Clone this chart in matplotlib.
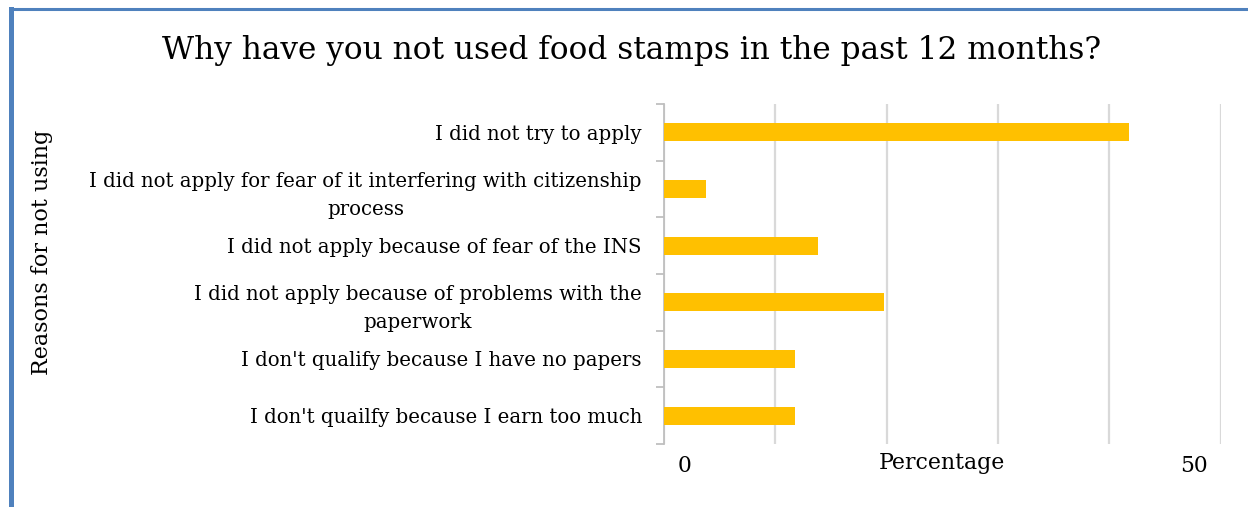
import matplotlib
matplotlib.use("Agg")
import matplotlib.pyplot as plt
from matplotlib.lines import Line2D
from matplotlib.transforms import ScaledTranslation

# survey answers, top to bottom
reasons = [
    "I did not try to apply",
    "I did not apply for fear of it interfering with citizenship\nprocess",
    "I did not apply because of fear of the INS",
    "I did not apply because of problems with the\npaperwork",
    "I don't qualify because I have no papers",
    "I don't quailfy because I earn too much",
]
percent = [41.8, 3.8, 13.8, 19.8, 11.8, 11.8]

x_ticks = [0, 10, 20, 30, 40, 50]
x_tick_labels = ["0", "", "", "", "", "50"]

title = "Why have you not used food stamps in the past 12 months?"
x_title = "Percentage"
y_title = "Reasons for not using"

BAR = "#FFC000"
GRID = "#D9D9D9"
FRAME = "#4F81BD"

plt.rcParams["font.family"] = ["DejaVu Serif"]

fig = plt.figure(figsize=(12.48, 5.07), dpi=100)
ax = fig.add_axes([0.532, 0.1243, 0.446, 0.6706])

pos = list(range(len(reasons)))
ax.barh(pos, percent, height=0.32, color=BAR, zorder=3)

ax.set_xlim(0, 50)
ax.set_ylim(len(reasons) - 0.5, -0.5)

ax.set_xticks(x_ticks)
ax.set_xticklabels(x_tick_labels, fontsize=15.7)
ax.tick_params(axis="x", length=0, pad=8)
# nudge the two end labels inwards
shifts = {0: 21 / 100, 5: -27 / 100}
for i, lab in enumerate(ax.get_xticklabels()):
    if i in shifts:
        lab.set_transform(lab.get_transform()
                          + ScaledTranslation(shifts[i], 0, fig.dpi_scale_trans))

ax.xaxis.grid(True, color=GRID, linewidth=1.6, zorder=0)
ax.set_yticks(pos)
ax.set_yticklabels(reasons, fontsize=14.2, multialignment="center",
                   linespacing=1.6)
for lab in ax.get_yticklabels():
    lab.set_transform(lab.get_transform()
                      + ScaledTranslation(0, 2 / 100, fig.dpi_scale_trans))
ax.set_yticks([p - 0.5 for p in pos] + [len(reasons) - 0.5], minor=True)
ax.tick_params(axis="y", which="major", length=0, pad=15.8)
ax.tick_params(axis="y", which="minor", length=6, width=1.3, color="#BFBFBF")

for side in ("top", "right", "bottom"):
    ax.spines[side].set_visible(False)
ax.spines["left"].set_color("#BFBFBF")
ax.spines["left"].set_linewidth(1.3)

ax.set_xlabel(x_title, fontsize=15.8)
ax.xaxis.set_label_coords(0.5, -0.0235)

fig.text(0.506, 1 - 50 / 507, title, fontsize=22.5, ha="center", va="center")
fig.text(42 / 1248, 1 - 252 / 507, y_title, fontsize=16, rotation=90,
         ha="center", va="center")

# chart frame, only its left and top edges show
fig.add_artist(Line2D([10.5 / 1248, 10.5 / 1248], [0, 1 - 8.5 / 507],
                      transform=fig.transFigure, color=FRAME, linewidth=3.6))
fig.add_artist(Line2D([10.5 / 1248, 1], [1 - 8.5 / 507, 1 - 8.5 / 507],
                      transform=fig.transFigure, color=FRAME, linewidth=2.2))

fig.savefig("out.png", dpi=100)
